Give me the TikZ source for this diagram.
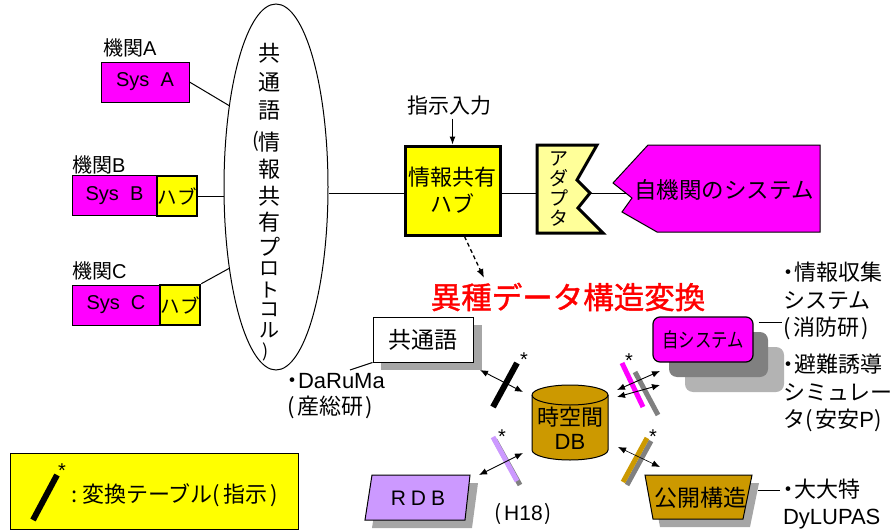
\documentclass[tikz,border=0pt]{standalone}
\usepackage{fontspec}
\setmainfont{Noto Sans CJK JP}
\newfontfamily\titlefont[FakeBold=1.2]{Noto Sans CJK JP}
\newfontfamily\latf{Liberation Sans}
\usetikzlibrary{arrows.meta,shapes.geometric}
\definecolor{mag}{HTML}{FF00FF}
\definecolor{yel}{HTML}{FFFF00}
\definecolor{lyel}{HTML}{FFFF99}
\definecolor{dbgold}{HTML}{CC9900}
\definecolor{lav}{HTML}{CC99FF}
\definecolor{shad}{HTML}{A6A6A6}
\definecolor{shadL}{HTML}{B3B3B3}
\definecolor{shadD}{HTML}{808080}
\newcommand{\pxs}[1]{\fontsize{#1pt}{#1pt}\selectfont}
\newcommand{\pxl}[2]{\fontsize{#1pt}{#2pt}\selectfont}
\newcommand{\ndot}{\makebox[11pt]{・}}
\tikzset{
  txt/.style={inner sep=0pt, outer sep=0pt},
  sysbox/.style={draw, fill=mag, line width=1pt, inner sep=0pt, font=\pxs{20}},
  hubsmall/.style={draw, fill=yel, line width=2.5pt, inner sep=0pt, minimum width=40pt, minimum height=40pt, font=\pxs{19.5}},
  bar/.style={line width=6pt},
  dbl/.style={{Latex[length=8pt,width=6.5pt]}-{Latex[length=8pt,width=6.5pt]}, line width=0.9pt},
  star/.style={inner sep=0pt, font=\latf\pxs{20}},
  conn/.style={line width=1pt},
}
\begin{document}
\begin{tikzpicture}[x=1pt,y=-1pt]
\useasboundingbox (0,0) rectangle (895,530);

% ---- left systems
\node[txt, anchor=west, font=\pxs{20}] (kA) at (103,48) {機関{\latf A}};
\node[sysbox, minimum width=88pt, minimum height=40pt] (sysA) at (145,82) {\latf Sys\ \ A};
\node[txt, anchor=west, font=\pxs{20}] (kB) at (72,165) {機関{\latf B}};
\node[sysbox, minimum width=85pt, minimum height=40pt] (sysB) at (114.5,195.5) {\latf Sys\ \ B};
\node[hubsmall] (hubB) at (177,196) {ハブ};
\node[txt, anchor=west, font=\pxs{20}] (kC) at (72,271) {機関{\latf C}};
\node[sysbox, minimum width=88pt, minimum height=40pt] (sysC) at (116,305) {\latf Sys\ \ C};
\node[hubsmall] (hubC) at (180,305) {ハブ};

% ---- protocol ellipse
\node[draw, ellipse, line width=1pt, minimum width=104pt, minimum height=366pt, inner sep=0pt] (prot) at (276,187) {};
\foreach \c/\yy in {共/53, 通/82, 語/111, 情/142, 報/169, 共/196, 有/222, プ/247}
  \node[txt, font=\pxs{22}] at (269,\yy) {\c};
\foreach \c/\yy in {ロ/269, ト/290, コ/310, ル/330}
  \node[txt, font=\pxs{20}] at (269,\yy) {\c};
\node[txt, font=\pxs{20}] (popen) at (256,141) {(};
\node[txt, font=\pxs{18}] (pclose) at (266,352) {)};

\draw[conn] (sysA.east) -- (prot.120);
\draw[conn] (hubB.east) -- (hubB.east -| prot.west);
\draw[conn] (hubC.north east) -- (prot.240);

% ---- hub
\node[draw, fill=yel, line width=3pt, minimum width=95pt, minimum height=89pt, inner sep=0pt,
      align=center, font=\pxl{22}{27}] (hub) at (452.5,190.5) {情報共有\\ハブ};
\node[txt, font=\pxs{21}] (inst) at (449,106) {指示入力};
\draw[conn, -{Latex[length=8pt,width=6pt]}] (inst.south -| hub.north) ++(0,3) -- (hub.north);
\draw[conn] (prot.east |- 0,193) -- (hub.west |- 0,193);

% ---- adapter
\coordinate (adL) at (537,193);
\coordinate (adR) at (590,193);
\draw[fill=lyel, line width=3pt, line join=miter] (537,145) -- (597,145) -- (577,180) -- (590,193) -- (578,208) -- (603,233) -- (537,233) -- cycle;
\node[txt, align=center, font=\pxl{19}{20}] (adapt) at (559,189) {ア\\ダ\\プ\\タ};
\draw[conn] (hub.east |- 0,193) -- (adL);

% ---- own system pentagon
\coordinate (pentL) at (625.7,193);
\draw[fill=mag, line width=1pt] (648,145) -- (820,145) -- (820,232) -- (657,232) -- (622,212) -- (632,198) -- (613,183) -- cycle;
\node[txt, font=\pxs{22.5}] (jiki) at (724,190) {自機関のシステム};
\draw[conn] (adR) -- (pentL);

% ---- dashed arrow & title
\coordinate (dtip) at (484,278);
\draw[line width=1.3pt, dash pattern=on 4pt off 3pt, -{Latex[length=9pt,width=7pt]}] ([xshift=12pt]hub.south) -- (dtip);
\node[txt, font=\titlefont\pxs{30.5}, text=red] (title) at (568,297) {異種データ構造変換};

% ---- common language box
\fill[shad] (381,325) rectangle (482,370);
\node[draw, fill=white, line width=1pt, minimum width=100pt, minimum height=45pt, inner sep=0pt, font=\pxs{23}] (kyo) at (423,339.5) {共通語};
\coordinate (daL) at (350,370);
\draw[conn] (kyo.south west) -- (daL);
\node[txt, anchor=north west, align=left, font=\pxl{22}{26}] (daruma) at (287,373) {\ndot{\latf DaRuMa}\\(\hspace{3pt}産総研\hspace{2pt})};

% ---- DB cylinder
\path[fill=dbgold, draw, line width=1pt] (532,395) -- (532,450) arc[start angle=180, end angle=360, x radius=38pt, y radius=10pt] -- (608,395) arc[start angle=0, end angle=180, x radius=38pt, y radius=10pt] -- cycle;
\draw[line width=1pt] (532,395) arc[start angle=180, end angle=360, x radius=38pt, y radius=10pt];
\node[txt, align=center, font=\pxl{22}{24}] (db) at (570,428) {時空間\\{\latf DB}};

% ---- black converter (common language)
\draw[bar] (493,407) -- (517,363);
\node[star] (s1) at (524,360) {*};
\coordinate (a1s) at (480,370);
\coordinate (a1e) at (523,392);
\draw[dbl] (a1s) -- (a1e);

% ---- own system stack
\fill[shadL, rounded corners=8pt] (685,347) rectangle (784,392);
\fill[shadD, rounded corners=8pt] (669,332) rectangle (768,377);
\node[draw, fill=mag, rounded corners=7pt, line width=1.2pt, minimum width=100pt, minimum height=45pt, inner sep=0pt, font=\pxs{20}] (jisys) at (703,339.5) {\scalebox{0.82}[1]{自システム}};
\coordinate (infoL) at (782,322);
\draw[conn] ([xshift=5pt]jisys.east |- 0,322) -- (infoL);
\node[txt, anchor=north west, align=left, font=\pxl{22}{27.5}] (info) at (783,262) {\ndot 情報収集\\システム\\(\hspace{3pt}消防研\hspace{2pt})};
\node[txt, anchor=north west, align=left, font=\pxl{22}{27.5}] (hinan) at (783,354) {\ndot 避難誘導\\シミュレー\\タ(\hspace{3pt}安安{\latf P})};

% magenta / gray converter
\draw[bar, shadD, line width=5pt] (635,372) -- (658,415);
\draw[bar, mag, line width=5pt] (622,363) -- (643,407);
\node[star] (s2) at (629,361) {*};
\coordinate (a2s) at (617,390);
\coordinate (a2e) at (660,371);
\coordinate (a3s) at (617,397);
\coordinate (a3e) at (660,385);
\draw[dbl] (a2s) -- (a2e);
\draw[dbl] (a3s) -- (a3e);

% ---- public structure
\fill[shad] (652,483) -- (759,483) -- (750,527) -- (660,527) -- cycle;
\draw[fill=dbgold, line width=1pt] (645,475) -- (752,475) -- (743,519) -- (653,519) -- cycle;
\node[txt, font=\pxs{23}] (kokai) at (700,498) {公開構造};
\coordinate (daiL) at (780,490);
\draw[conn] (758,490) -- (daiL);
\node[txt, anchor=north west, align=left, font=\pxl{22}{27}] (dai) at (783,479) {\ndot 大大特\\{\latf DyLUPAS}};

% gold converter
\draw[bar, shadD, line width=5pt] (627,485) -- (651,441);
\draw[bar, dbgold, line width=5pt] (623,482) -- (647,438);
\node[star] (s3) at (653,437) {*};
\coordinate (a4s) at (618,447);
\coordinate (a4e) at (660,467);
\draw[dbl, line width=0.6pt] (a4s) -- (a4e);

% ---- RDB
\fill[shad] (379,483) -- (478,483) -- (472,528) -- (372,528) -- cycle;
\draw[fill=lav, line width=1pt] (372,475) -- (470,475) -- (465,520) -- (365,520) -- cycle;
\node[txt, font=\pxs{21}] (rdb) at (418,498) {\latf R\hspace{5pt}D\hspace{5pt}B};
\node[txt, font=\pxs{21}] (h18) at (523,514) {(\hspace{3pt}{\latf H18}\hspace{2pt})};

% lavender converter
\draw[bar, shadD, line width=5pt] (495,440) -- (520,485);
\draw[bar, lav, line width=5pt] (493,437) -- (517,481);
\node[star] (s4) at (502,437) {*};
\coordinate (a5s) at (479,475);
\coordinate (a5e) at (523,453);
\draw[dbl] (a5s) -- (a5e);

% ---- legend
\node[draw, fill=yel, line width=1pt, minimum width=288pt, minimum height=76pt, inner sep=0pt] (leg) at (154,491) {};
\draw[bar] (33,520) -- (57,475);
\node[star] (s5) at (62,471) {*};
\node[txt, anchor=west, font=\pxs{22}] (legt) at (71,495) {:\hspace{5pt}変換テーブル(\hspace{3pt}指示\hspace{3pt})};
\end{tikzpicture}
\end{document}
